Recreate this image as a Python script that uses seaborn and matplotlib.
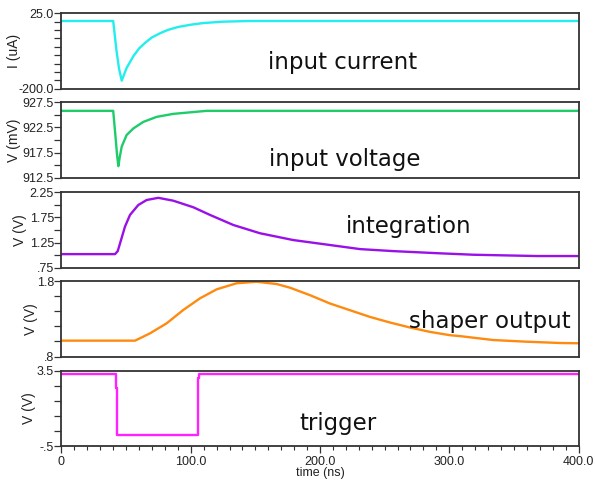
import numpy as np
import pandas as pd
import matplotlib
matplotlib.use("Agg")
import matplotlib.pyplot as plt
import seaborn as sns

# ---------------- data ----------------
current_t = [0, 40.0, 42.5, 44.5, 46.6, 50.4, 55.6, 60, 65, 70, 76, 82, 90, 100, 110, 125, 145, 400]
current_v = [2, 2, -85, -140, -176, -138, -103, -80, -62, -47, -35, -25, -16, -9, -4, 0, 2, 2]

voltage_t = [0, 40, 41.5, 43, 44, 45, 46.6, 50.4, 55.6, 63.3, 73.6, 86.5, 99.4, 112.3, 400]
voltage_v = [925.8, 925.8, 921.5, 917.0, 914.8, 916.5, 918.7, 921.0, 922.3, 923.6, 924.6, 925.2, 925.5, 925.8, 925.8]

integ_t = [0, 41.4, 43.5, 45.3, 49.1, 53, 59.4, 65.9, 74.9, 86.5, 102, 114.9, 132.9, 153.6,
           179.3, 205.2, 231, 256.7, 292.9, 318.6, 367.7, 400]
integ_v = [1.02, 1.02, 1.08, 1.235, 1.566, 1.80, 1.997, 2.097, 2.14, 2.083, 1.952, 1.80, 1.60, 1.435,
           1.30, 1.21, 1.12, 1.08, 1.036, 1.008, 0.982, 0.982]

shaper_t = [0, 56.9, 68.5, 81.4, 94.2, 107.2, 120.1, 135.5, 151, 166.5, 176.8, 192.3, 207.7, 223.2,
            238.7, 254.2, 269.6, 285.1, 300.6, 308.3, 334.1, 359.9, 385.7, 400]
shaper_v = [1.01, 1.01, 1.107, 1.24, 1.416, 1.571, 1.69, 1.77, 1.79, 1.76, 1.711, 1.612, 1.502, 1.413,
            1.324, 1.25, 1.184, 1.126, 1.082, 1.07, 1.018, 0.996, 0.979, 0.975]

trig_t = [0, 42.3, 42.3, 43.0, 43.0, 105.3, 105.3, 106.0, 106.0, 400]
trig_v = [3.34, 3.34, 2.6, 2.6, 0.1, 0.1, 3.1, 3.1, 3.34, 3.34]

panel_labels = ["input current", "input voltage", "integration", "shaper output", "trigger"]
y_labels = ["I (uA)", "V (mV)", "V (V)", "V (V)", "V (V)"]
y_limits = [(-200, 25), (912.5, 927.5), (0.75, 2.25), (0.8, 1.8), (-0.5, 3.5)]
y_major = [[-200, 25], [912.5, 917.5, 922.5, 927.5], [0.75, 1.25, 1.75, 2.25], [0.8, 1.8], [-0.5, 3.5]]
y_major_labels = [["-200.0", "25.0"], ["912.5", "917.5", "922.5", "927.5"],
                  [".75", "1.25", "1.75", "2.25"], [".8", "1.8"], ["-.5", "3.5"]]
y_minor = [list(np.arange(-200, 26, 25)), list(np.arange(912.5, 927.6, 2.5)),
           list(np.arange(0.75, 2.26, 0.25)), list(np.arange(0.8, 1.81, 0.2)),
           list(np.arange(-0.5, 3.51, 0.8))]
x_major = [0, 100, 200, 300, 400]
x_major_labels = ["0", "100.0", "200.0", "300.0", "400.0"]

series = [(current_t, current_v), (voltage_t, voltage_v), (integ_t, integ_v),
          (shaper_t, shaper_v), (trig_t, trig_v)]
colors = ["#22eeee", "#1ecc6a", "#9a10e8", "#ff8a10", "#ff22ff"]

# ---------------- style/layout ----------------
sns.set_style("white")
plt.rcParams["font.family"] = ["DejaVu Sans"]

fig = plt.figure(figsize=(5.95, 4.82), dpi=100)
W, H = 595.0, 482.0
left_px, right_px = 61.5, 578.5
tops = [13.3, 102.3, 192.3, 281.0, 370.7]
bots = [88.7, 177.7, 267.7, 356.5, 446.3]
text_pos = [(0.5445, 0.354), (0.548, 0.248), (0.672, 0.54), (0.828, 0.47), (0.535, 0.295)]
ylab_x = [-0.078, -0.078, -0.066, -0.045, -0.049]

tick_font = dict(family=["Liberation Sans", "DejaVu Sans"], size=9)
lab_font = dict(family=["Liberation Sans", "DejaVu Sans"], size=10)

for i in range(5):
    ax = fig.add_axes([left_px / W, 1 - bots[i] / H, (right_px - left_px) / W, (bots[i] - tops[i]) / H])
    df = pd.DataFrame({"t": series[i][0], "v": series[i][1]})
    sns.lineplot(data=df, x="t", y="v", ax=ax, color=colors[i], linewidth=1.7,
                 sort=False, estimator=None)
    ax.set_xlim(0, 400)
    ax.set_ylim(*y_limits[i])
    for s in ax.spines.values():
        s.set_color("#333333")
        s.set_linewidth(1.3)
    ax.set_yticks(y_minor[i], minor=True)
    ax.set_yticks(y_major[i])
    ax.set_yticklabels(y_major_labels[i], fontdict=tick_font, color="#222222")
    ax.tick_params(axis="y", which="both", direction="out", length=5, width=0.9,
                   color="#333333", pad=0.5, left=True)
    ax.set_ylabel(y_labels[i], fontdict=lab_font, color="#222222")
    ax.yaxis.set_label_coords(ylab_x[i], 0.5)
    if i < 4:
        ax.set_xticks([])
        ax.set_xlabel("")
    else:
        ax.set_xticks(list(np.arange(0, 401, 10)), minor=True)
        ax.set_xticks(x_major)
        ax.set_xticklabels(x_major_labels, fontdict=tick_font, color="#222222")
        ax.tick_params(axis="x", which="major", direction="out", length=5, width=0.9,
                       color="#333333", pad=2, bottom=True)
        ax.tick_params(axis="x", which="minor", direction="out", length=3, width=0.8,
                       color="#333333", bottom=True)
        ax.set_xlabel("time (ns)", fontdict=dict(family=["Liberation Sans", "DejaVu Sans"], size=9),
                      color="#222222", labelpad=-1)
    ax.text(text_pos[i][0], text_pos[i][1], panel_labels[i], transform=ax.transAxes,
            ha="center", va="center", fontsize=16.5, color="#111111", family="DejaVu Sans")

fig.savefig("out.png", dpi=100)
